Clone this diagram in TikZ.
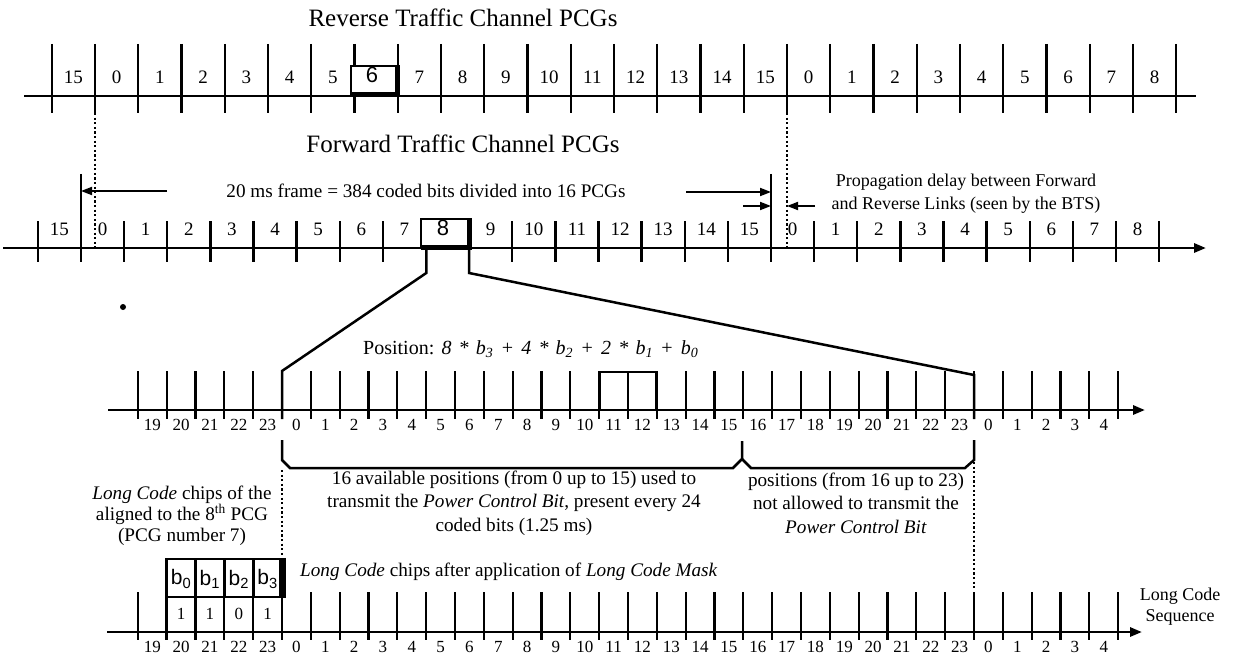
\documentclass[tikz,border=0pt]{standalone}
\usepackage{fontspec}
\setmainfont{Liberation Serif}
\newfontfamily\arialf{Liberation Sans}
\usetikzlibrary{arrows.meta}
\newcommand\gp{\hspace{0.36em}}
\begin{document}
\begin{tikzpicture}[x=1pt,y=-1pt,
  ax/.style={line width=2.8pt},
  tk/.style={line width=2.3pt},
  num/.style={inner sep=0pt,font=\fontsize{19}{19}\selectfont},
  snum/.style={inner sep=0pt,font=\fontsize{17}{17}\selectfont},
  txt/.style={inner sep=0pt,font=\fontsize{19.2}{23.5}\selectfont,align=center},
  ttl/.style={inner sep=0pt,font=\fontsize{25}{25}\selectfont},
  arr/.style={line width=1.9pt,-{Triangle[length=11pt,width=8pt]}},
  axarr/.style={-{Triangle[length=12pt,width=9pt]}},
  dotl/.style={line width=2.4pt,dash pattern=on 2.2pt off 2.4pt},
  zl/.style={line width=2.5pt},
  bx/.style={line width=2.8pt},
  sans/.style={inner sep=0pt,font=\arialf\fontsize{22}{22}\selectfont},
  bsans/.style={inner sep=0pt,font=\arialf\fontsize{21}{21}\selectfont},
]
\useasboundingbox (0,0) rectangle (1238,655);

% ---------------- Reverse row ----------------
\def\ra{95}\def\rw{43.25}
\draw[ax] (24,96) coordinate (rA) -- (1196,96) coordinate (rB);
\foreach \k in {-1,...,25}{\draw[tk] ({\ra+\k*\rw},44) -- ({\ra+\k*\rw},113);}
\foreach \k in {-1,...,24}{\ifnum\k=6\else\pgfmathtruncatemacro\lab{mod(\k+16,16)}\node[num] (rl\k) at ({\ra+(\k+0.5)*\rw},77) {\lab};\fi}
\draw[line width=1.8pt, fill=white] (351,96) -- (351,66) -- (397,66) -- (397,96);
\fill (394.5,65.1) rectangle (400,97.5);
\fill (351,92.5) rectangle (400,97.5);
\node[sans] (rbox) at (372,75) {6};
\node[ttl] (t1) at (463,18) {Reverse Traffic Channel PCGs};

% ---------------- Forward row ----------------
\def\fa{81}\def\fw{43.125}
\draw[ax,axarr] (3,248) coordinate (fA) -- (1206,248) coordinate (fB);
\foreach \k in {-1,...,25}{\draw[tk] ({\fa+\k*\fw},221) -- ({\fa+\k*\fw},262);}
\draw[tk] (81,174) -- (81,262);
\draw[tk] (771,174) -- (771,262);
\foreach \k in {-1,...,24}{\ifnum\k=8\else\pgfmathtruncatemacro\lab{mod(\k+16,16)}\node[num] (fl\k) at ({\fa+(\k+0.5)*\fw},229) {\lab};\fi}
\draw[line width=1.8pt, fill=white] (421,249) -- (421,219) -- (469,219) -- (469,249);
\fill (466.5,218.1) rectangle (472,250);
\fill (421,245) rectangle (472,250);
\node[sans] (fbox) at (443,228) {8};
\node[ttl] (t2) at (463,144) {Forward Traffic Channel PCGs};

% dotted alignment lines
\draw[dotl] (95,113) -- (95,247);
\draw[dotl] (787,113) -- (787,247);

% frame arrows
\coordinate (frL) at (81,191);
\coordinate (frR) at (771,192);
\draw[arr] (167,191) -- (frL);
\draw[arr] (686,192) -- (frR);
\node[txt] (frame) at (426,191) {20 ms frame = 384 coded bits divided into 16 PCGs};
\coordinate (pdL) at (771,206);
\coordinate (pdR) at (787,206);
\draw[arr] (743,206) -- (pdL);
\draw[arr] (815,206) -- (pdR);
\node[txt,font=\fontsize{18}{23}\selectfont] (prop) at (966,194) {Propagation delay between Forward\\and Reverse Links (seen by the BTS)};

% dot
\fill (123,307) circle (3);

% ---------------- Middle row ----------------
\def\ma{282}\def\mw{28.833}
\draw[ax,axarr] (108,410) coordinate (mA) -- (1145,410) coordinate (mB);
\foreach \k in {-5,...,29}{\draw[tk] ({\ma+\k*\mw},371) -- ({\ma+\k*\mw},419);}
\foreach \k in {-5,...,28}{\pgfmathtruncatemacro\lab{mod(\k+24,24)}\node[snum] (ml\k) at ({\ma+(\k+0.5)*\mw},425) {\lab};}
\draw[bx] ({\ma+11*\mw},372) rectangle ({\ma+12*\mw},410);
\draw[bx] ({\ma+12*\mw},372) rectangle ({\ma+13*\mw},410);
\node[txt,anchor=west,font=\fontsize{20}{20}\selectfont] (pos) at (363,349) {Position:\gp\textit{8\gp*\gp b\textsubscript{3}\gp+\gp4\gp*\gp b\textsubscript{2}\gp+\gp2\gp*\gp b\textsubscript{1}\gp+\gp b\textsubscript{0}}};

% zoom lines
\draw[zl] (426.3,249) -- (426.3,273) -- (282,371) -- (282,419);
\draw[zl] (469.1,249) -- (469.1,273) -- (974,375) -- (974,419);

% brace
\draw[zl] (282,440) -- (282,460) -- (290,468) -- (733,468) -- (742,459) -- (742,441);
\draw[zl] (742,459) -- (751,468) -- (965,468) -- (974,460) -- (974,440);
\node[txt] (avail) at (514,503) {16 available positions (from 0 up to 15) used to\\transmit the \textit{Power Control Bit}, present every 24\\coded bits (1.25 ms)};
\node[txt] (notall) at (856,503) {positions (from 16 up to 23)\\not allowed to transmit the\\\textit{Power Control Bit}};
\node[txt,font=\fontsize{19.2}{21}\selectfont] (lcc) at (182,516) {\textit{Long Code} chips of the\\aligned to the 8\textsuperscript{th} PCG\\(PCG number 7)};
\draw[dotl] (282,470) -- (282,557);
\draw[dotl] (974,462) -- (974,590);

% ---------------- Bottom row ----------------
\draw[ax,axarr] (107,632) coordinate (bA) -- (1142,632) coordinate (bB);
\foreach \k in {-5,...,29}{\draw[tk] ({\ma+\k*\mw},592) -- ({\ma+\k*\mw},640);}
\foreach \k in {-5,...,28}{\pgfmathtruncatemacro\lab{mod(\k+24,24)}\node[snum] (bl\k) at ({\ma+(\k+0.5)*\mw},647) {\lab};}
\draw[bx,fill=white] (166,559) rectangle (282,597);
\foreach \k in {-3,-2,-1}{\draw[bx] ({\ma+\k*\mw},559) -- ({\ma+\k*\mw},597);}
\draw[line width=3.2pt] (166.5,559) -- (166.5,640);
\fill (279,557.6) rectangle (285.5,598);
\foreach \k/\b/\v in {-4/0/1,-3/1/1,-2/2/0,-1/3/1}{
  \node[bsans] (b\b) at ({\ma+(\k+0.5)*\mw},579) {b\textsubscript{\b}};
  \node[snum] (v\b) at ({\ma+(\k+0.5)*\mw},614) {\v};
}
\node[txt,anchor=west] (mask) at (300,572) {\textit{Long Code} chips after application of \textit{Long Code Mask}};
\node[txt,font=\fontsize{18}{21}\selectfont] (lcs) at (1180,607) {Long Code\\Sequence};
\end{tikzpicture}
\end{document}
